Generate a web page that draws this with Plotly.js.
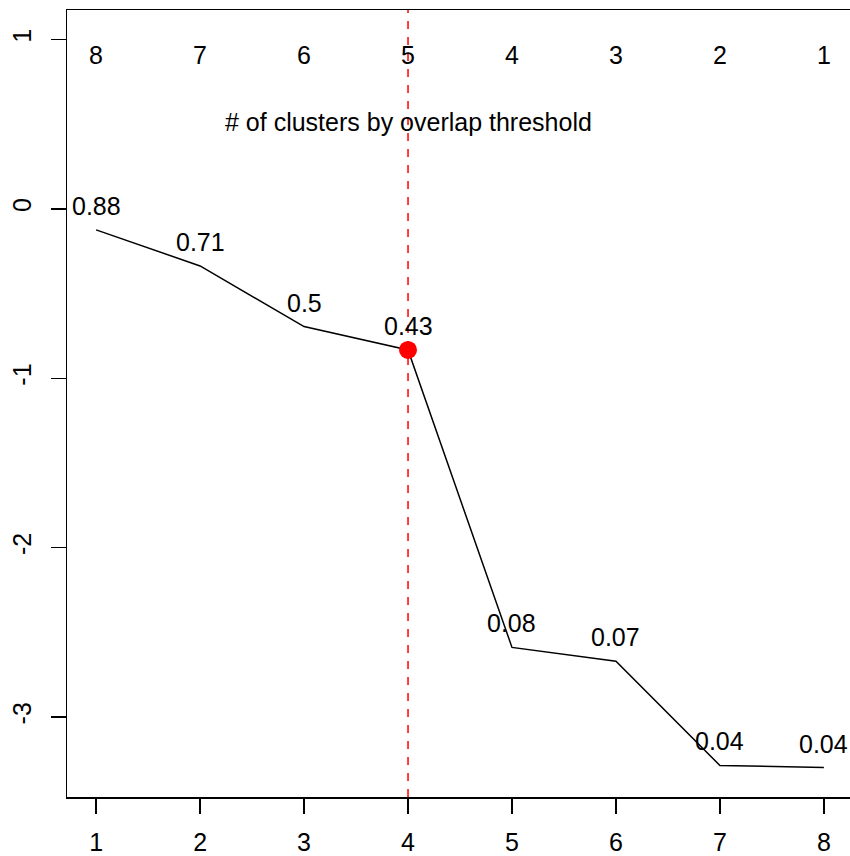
<!DOCTYPE html>
<html>
<head>
<meta charset="utf-8">
<script src="https://cdn.plot.ly/plotly-3.0.1.min.js"></script>
<style>
html, body { margin: 0; padding: 0; overflow: hidden; background: #fff; }
#chart { width: 860px; height: 856px; }
</style>
</head>
<body>
<div id="chart"></div>
<script>
// ---- data ----
const xVals = [1, 2, 3, 4, 5, 6, 7, 8];
const yVals = [-0.124, -0.337, -0.695, -0.833, -2.589, -2.670, -3.286, -3.298];
const pointLabels = ["0.88", "0.71", "0.5", "0.43", "0.08", "0.07", "0.04", "0.04"];
const clusterCounts = ["8", "7", "6", "5", "4", "3", "2", "1"];
const selectedIndex = 3;
const xTickVals = [1, 2, 3, 4, 5, 6, 7, 8];
const yTickVals = [1, 0, -1, -2, -3];
const yTickText = ["1", "0", "-1", "-2", "-3"];
const noteText = "# of clusters by overlap threshold";
const noteY = 0.5;
const countsY = 1;

const FONT = "Liberation Sans, Arial, Helvetica, sans-serif";
const FS = 25;

const traces = [
  {
    x: xVals, y: yVals, type: "scatter", mode: "lines",
    line: { color: "black", width: 1.5 }, hoverinfo: "skip", showlegend: false
  },
  {
    x: [xVals[selectedIndex]], y: [yVals[selectedIndex]], type: "scatter", mode: "markers",
    marker: { color: "#ff0000", size: 18, line: { width: 0 } }, showlegend: false
  }
];

const annotations = [];
xVals.forEach((x, i) => {
  annotations.push({
    x: x, y: yVals[i], xref: "x", yref: "y", text: pointLabels[i],
    showarrow: false, xanchor: "center", yanchor: "middle", yshift: 24,
    font: { family: FONT, size: FS, color: "black" }
  });
  annotations.push({
    x: x, y: countsY, xref: "x", yref: "y", text: clusterCounts[i],
    showarrow: false, xanchor: "center", yanchor: "middle", yshift: -16,
    font: { family: FONT, size: FS, color: "black" }
  });
});
annotations.push({
  x: xVals[selectedIndex], y: noteY, xref: "x", yref: "y", text: noteText,
  showarrow: false, xanchor: "center", yanchor: "middle", yshift: 2,
  font: { family: FONT, size: FS, color: "black" }
});

const layout = {
  width: 860, height: 856,
  margin: { l: 67, r: 7, t: 10, b: 59, pad: 0 },
  paper_bgcolor: "white", plot_bgcolor: "white",
  showlegend: false,
  font: { family: FONT, size: FS, color: "black" },
  xaxis: {
    range: [0.72, 8.28], tickvals: xTickVals, ticks: "outside", ticklen: 15,
    tickwidth: 1.5, tickcolor: "black", showline: true, mirror: true,
    linecolor: "black", linewidth: 1.5, showgrid: false, zeroline: false,
    tickfont: { family: FONT, size: FS, color: "black" }, ticklabelstandoff: 7
  },
  yaxis: {
    range: [-3.472, 1.174], tickvals: yTickVals, ticktext: yTickText, tickangle: -90,
    ticks: "outside", ticklen: 15, tickwidth: 1.5, tickcolor: "black",
    showline: true, mirror: true, linecolor: "black", linewidth: 1.5,
    showgrid: false, zeroline: false,
    tickfont: { family: FONT, size: FS, color: "black" }, ticklabelstandoff: 10
  },
  shapes: [{
    type: "line", xref: "x", yref: "paper", x0: xVals[selectedIndex], x1: xVals[selectedIndex],
    y0: 0, y1: 1, line: { color: "#ff0000", width: 1.5, dash: "8px,8px" }, layer: "above"
  }],
  annotations: annotations
};

Plotly.newPlot("chart", traces, layout, { staticPlot: true, displayModeBar: false });
</script>
</body>
</html>
